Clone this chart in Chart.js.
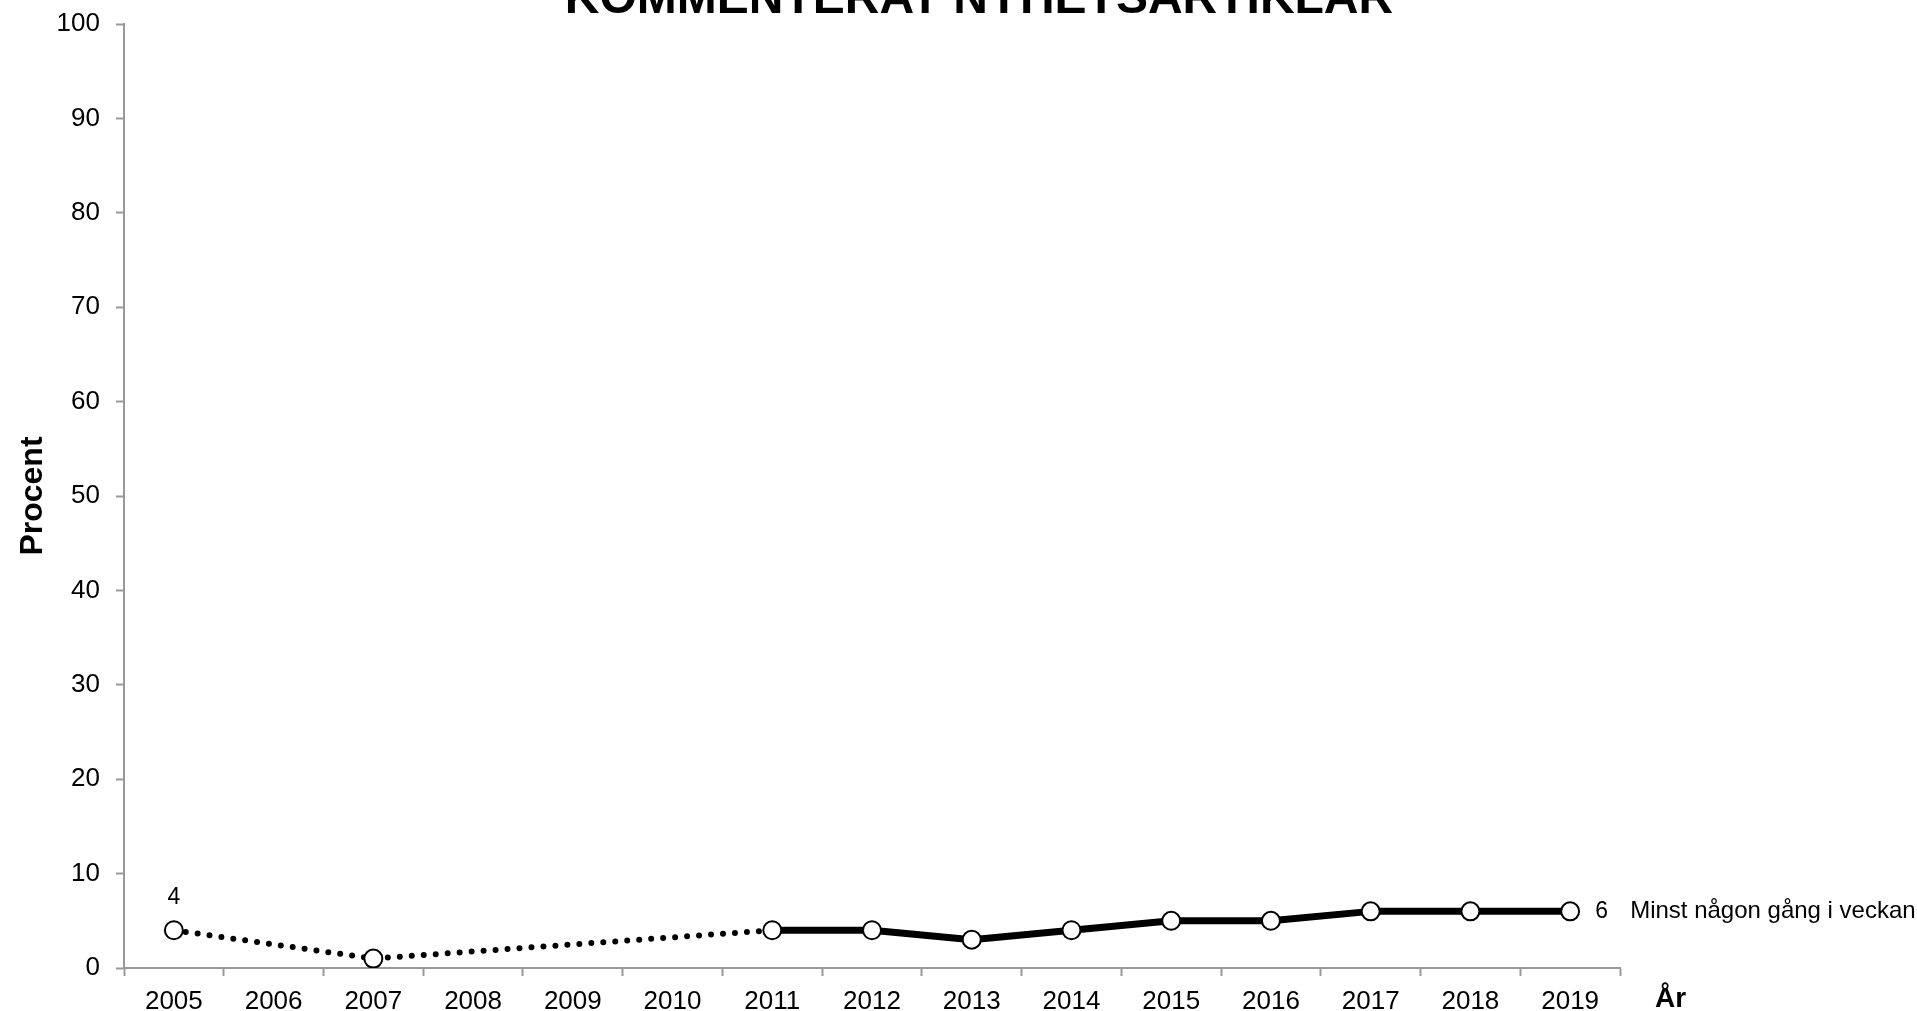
<!DOCTYPE html>
<html>
<head>
<meta charset="utf-8">
<script src="https://cdn.jsdelivr.net/npm/chart.js@4"></script>
<style>
  html, body { margin: 0; padding: 0; background: #ffffff; }
  #wrap { width: 1917px; height: 1011px; position: relative; }
</style>
</head>
<body>
<div id="wrap"><canvas id="c" width="1917" height="1011"></canvas></div>
<script>
const chartTitle = 'KOMMENTERAT NYHETSARTIKLAR';
const years = ['2005','2006','2007','2008','2009','2010','2011','2012','2013','2014','2015','2016','2017','2018','2019'];
const weekly = [4, null, 1, null, null, null, 4, 4, 3, 4, 5, 5, 6, 6, 6];
const seriesName = 'Minst någon gång i veckan';
const yTicks = [0,10,20,30,40,50,60,70,80,90,100];
const yTitle = 'Procent';
const xTitle = 'År';
const firstSolidIndex = 6;

const FONT = '"Liberation Sans", Arial, sans-serif';
const AXIS_GRAY = '#999999';

const annotatePlugin = {
  id: 'annotate',
  afterDraw(chart) {
    const ctx = chart.ctx;
    const meta = chart.getDatasetMeta(0);
    ctx.save();
    ctx.fillStyle = '#000';
    // title (cut at top as in the reference)
    ctx.font = 'bold 48px ' + FONT;
    ctx.textAlign = 'center';
    ctx.textBaseline = 'alphabetic';
    ctx.fillText(chartTitle, 979, 13);

    // first value label above first point
    const firstIdx = weekly.findIndex(v => v !== null);
    const p0 = meta.data[firstIdx];
    ctx.font = '23px ' + FONT;
    ctx.textAlign = 'center';
    ctx.textBaseline = 'middle';
    ctx.fillText(String(weekly[firstIdx]), p0.x, p0.y - 33);

    // last value + series name to the right of the last point
    const lastIdx = weekly.length - 1;
    const pl = meta.data[lastIdx];
    ctx.font = '23px ' + FONT;
    ctx.textAlign = 'left';
    ctx.fillText(String(weekly[lastIdx]), pl.x + 25, pl.y);
    ctx.font = '24px ' + FONT;
    ctx.fillText(seriesName, pl.x + 60, pl.y);

    // x axis name at right end
    const xs = chart.scales.x;
    ctx.font = 'bold 28px ' + FONT;
    ctx.textAlign = 'left';
    ctx.textBaseline = 'alphabetic';
    ctx.fillText(xTitle, xs.right + 35, 1007);
    ctx.restore();
  }
};

new Chart(document.getElementById('c'), {
  type: 'line',
  data: {
    labels: years,
    datasets: [{
      label: seriesName,
      data: weekly,
      spanGaps: true,
      borderColor: '#000000',
      borderWidth: 7,
      borderCapStyle: 'butt',
      borderJoinStyle: 'round',
      tension: 0,
      pointRadius: 9,
      pointHoverRadius: 9,
      pointBorderWidth: 2,
      pointBackgroundColor: '#ffffff',
      pointBorderColor: '#000000',
      segment: {
        borderDash: c => c.p0DataIndex < firstSolidIndex ? [0, 12] : undefined,
        borderWidth: c => c.p0DataIndex < firstSolidIndex ? 6 : 7,
        borderCapStyle: c => c.p0DataIndex < firstSolidIndex ? 'round' : 'butt'
      }
    }]
  },
  options: {
    responsive: false,
    animation: false,
    events: [],
    layout: { padding: { top: 24, right: 297, bottom: 0, left: 0 } },
    plugins: {
      legend: { display: false },
      tooltip: { enabled: false },
      title: { display: false }
    },
    scales: {
      x: {
        type: 'category',
        offset: true,
        grid: {
          offset: true,
          drawOnChartArea: false,
          drawTicks: true,
          tickLength: 8,
          tickWidth: 2,
          color: AXIS_GRAY
        },
        border: { display: true, color: AXIS_GRAY, width: 2 },
        ticks: {
          color: '#000',
          font: { family: FONT, size: 26 },
          padding: 10,
          maxRotation: 0,
          autoSkip: false
        },
        afterFit(scale) { scale.height = 43; scale.paddingLeft = 0; scale.paddingRight = 0; }
      },
      y: {
        min: 0,
        max: 100,
        afterBuildTicks(scale) { scale.ticks = yTicks.map(v => ({ value: v })); },
        grid: {
          drawOnChartArea: false,
          drawTicks: true,
          tickLength: 8,
          tickWidth: 2,
          color: AXIS_GRAY
        },
        border: { display: true, color: AXIS_GRAY, width: 2 },
        ticks: {
          color: '#000',
          font: { family: FONT, size: 26 },
          padding: 16
        },
        title: {
          display: true,
          text: yTitle,
          color: '#000',
          font: { family: FONT, size: 32, weight: 'bold' },
          padding: { top: 14, bottom: 0 }
        },
        afterFit(scale) { scale.width = 124; scale.paddingTop = 0; scale.paddingBottom = 0; }
      }
    }
  },
  plugins: [annotatePlugin]
});
</script>
</body>
</html>
